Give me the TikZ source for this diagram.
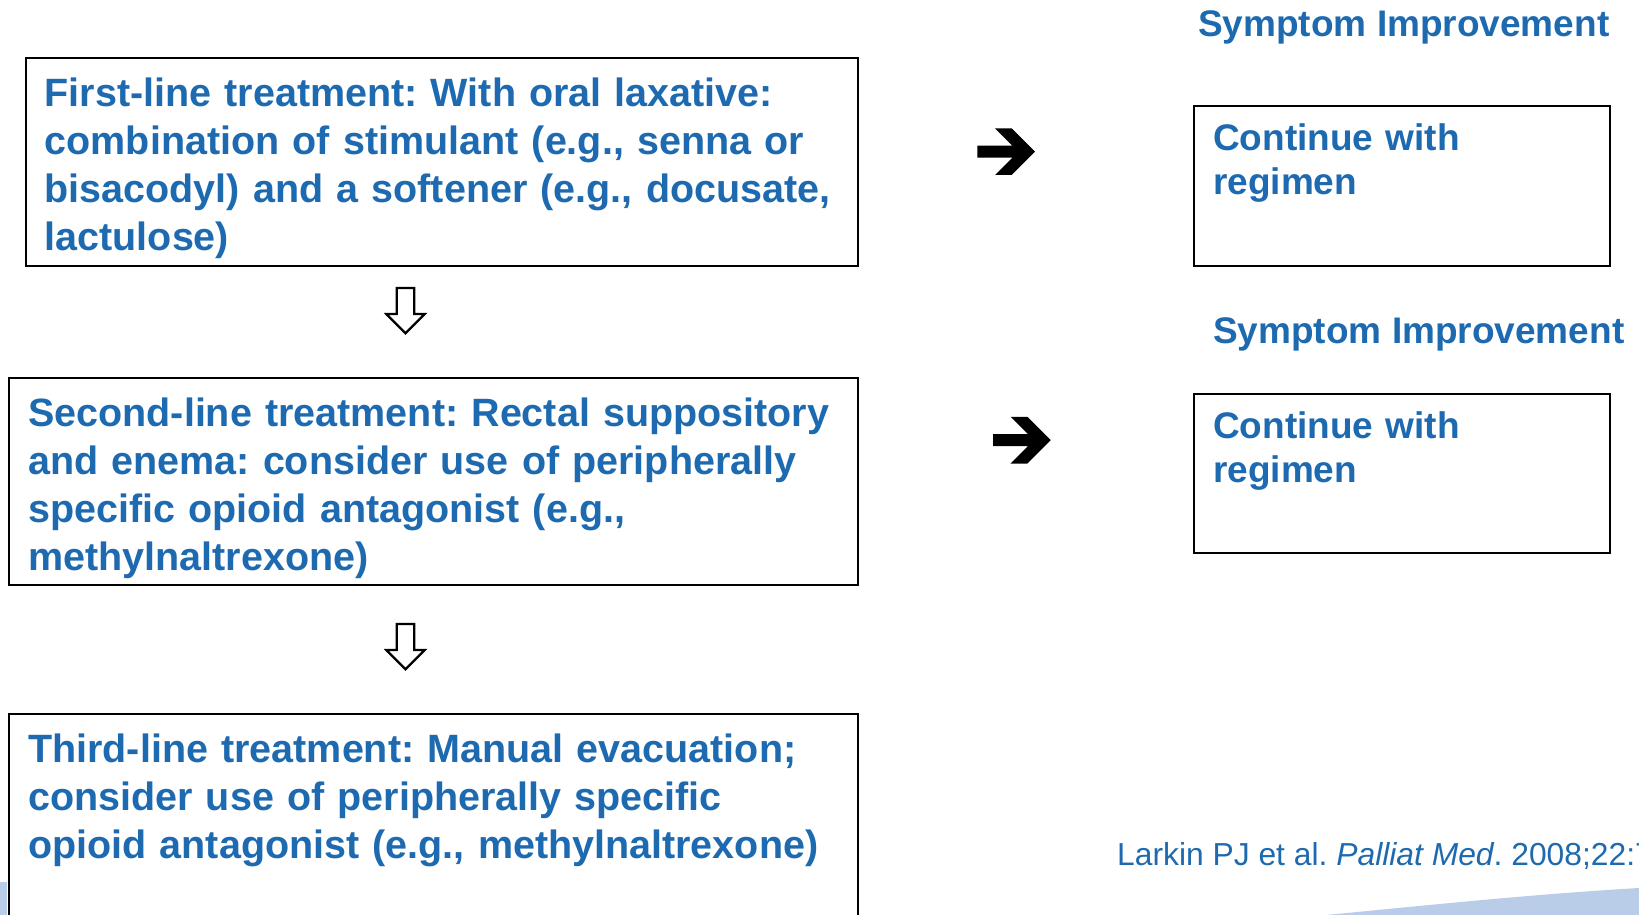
\documentclass[tikz,border=0pt]{standalone}
\usepackage{fontspec}
\setmainfont{Liberation Sans}
\usetikzlibrary{calc}
\definecolor{txtblue}{RGB}{30,106,176}
\definecolor{decoblue}{RGB}{185,205,233}
\frenchspacing

\tikzset{
  stepbox/.style={draw=black, line width=2pt, rectangle, inner sep=0pt, anchor=north west},
  boxtext/.style={anchor=base west, inner sep=0pt, text=txtblue, text width=840pt, align=left,
    font=\bfseries\fontsize{39.5}{48}\selectfont},
  sidetext/.style={anchor=base west, inner sep=0pt, text=txtblue, text width=380pt, align=left,
    font=\bfseries\fontsize{37}{44.5}\selectfont},
  heading/.style={anchor=base west, inner sep=0pt, text=txtblue,
    font=\bfseries\fontsize{37}{44.5}\selectfont},
  citation/.style={anchor=base west, inner sep=0pt, text=txtblue,
    font=\fontsize{31.8}{38}\selectfont},
  % bold chevron arrow pointing right, origin at top-left of the shaft
  rarrow/.pic={\fill[black] (0,0) -- (35,0) -- (17.7,-17.4) -- (34.4,-17.4) -- (57.7,6)
     -- (34.4,29.3) -- (17.7,29.3) -- (35,12) -- (0,12) -- cycle;},
  % hollow arrow pointing down, origin at top centre of the shaft
  darrow/.pic={\draw[black, line width=2.2pt, line join=miter, fill=white]
     (-8.8,0) -- (8.8,0) -- (8.8,26) -- (19.2,26) -- (0,45.3) -- (-19.2,26) -- (-8.8,26) -- cycle;},
}

\begin{document}
\begin{tikzpicture}[x=1pt, y=-1pt]
\useasboundingbox (0,0) rectangle (1639,915);
\clip (0,0) rectangle (1639,915);

% slide decoration
\fill[decoblue] (0,882) rectangle (7,915);
\fill[decoblue] (1326,915) .. controls (1430,905) and (1535,894) .. (1639,888) -- (1639,915) -- cycle;

% treatment boxes
\node[stepbox, minimum width=832pt, minimum height=208pt] (b1) at (25,57) {};
\node[stepbox, minimum width=849pt, minimum height=207pt] (b2) at (8,377) {};
\node[stepbox, minimum width=849pt, minimum height=260pt] (b3) at (8,713) {};

\node[boxtext] (t1) at ($(b1.north west)+(19.5,49.5)$)
  {First-line treatment: With oral laxative:\\
   combination of stimulant (e.g., senna or\\
   bisacodyl) and a softener (e.g., docusate,\\
   lactulose)};
\node[boxtext] (t2) at ($(b2.north west)+(20,49.5)$)
  {Second-line treatment: Rectal suppository\\
   and enema: consider use of peripherally\\
   specific opioid antagonist (e.g.,\\
   methylnaltrexone)};
\node[boxtext] (t3) at ($(b3.north west)+(20,49.5)$)
  {Third-line treatment: Manual evacuation;\\
   consider use of peripherally specific\\
   opioid antagonist (e.g., methylnaltrexone)};

% outcome boxes
\node[stepbox, minimum width=416pt, minimum height=160pt] (r1) at (1193,105) {};
\node[stepbox, minimum width=416pt, minimum height=159pt] (r2) at (1193,393) {};
\node[sidetext] (s1) at ($(r1.north west)+(20,45)$) {Continue with\\ regimen};
\node[sidetext] (s2) at ($(r2.north west)+(20,45)$) {Continue with\\ regimen};

\node[heading] (h1) at (1198,37) {Symptom Improvement};
\node[heading] (h2) at (1213,343) {Symptom Improvement};

% arrows
\coordinate (d1) at (405.5,288);
\coordinate (d2) at (405.5,624);
\coordinate (a1) at (977.3,145.7);
\coordinate (a2) at (993,434.2);
\pic at (d1) {darrow};
\pic at (d2) {darrow};
\pic at (a1) {rarrow};
\pic at (a2) {rarrow};

\node[citation] (c1) at (1117,865)
  {Larkin PJ et al. \textit{Palliat Med}. 2008;22:796-807.};
\end{tikzpicture}
\end{document}
